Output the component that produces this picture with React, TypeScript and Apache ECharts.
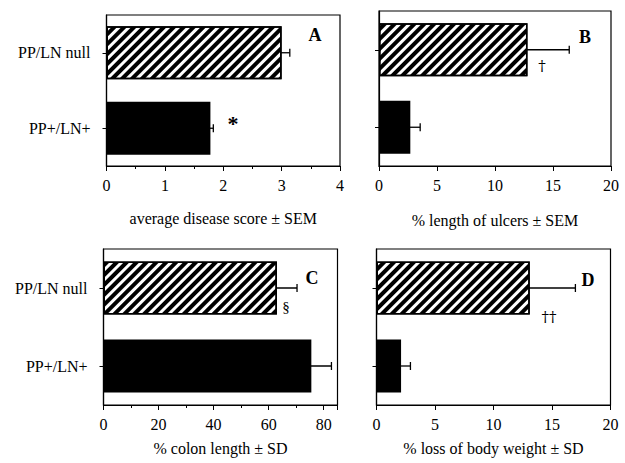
import React, { useEffect, useRef } from "react";
import * as echarts from "echarts";

const categories = ["PP/LN null", "PP+/LN+"];
const meansA = [3.0, 1.78];
const errA = [0.14, 0.05];
const meansB = [12.8, 2.7];
const errB = [3.6, 0.85];
const meansC = [63, 75.5];
const errC = [7.3, 7.3];
const meansD = [13.1, 2.1];
const errD = [3.9, 0.8];
const titles = [
  "average disease score ± SEM",
  "% length of ulcers ± SEM",
  "% colon length ± SD",
  "% loss of body weight ± SD",
];

const FONT = "'Liberation Serif', 'DejaVu Serif', serif";

const hatch = {
  symbol: "rect",
  symbolSize: 1,
  color: "#000",
  backgroundColor: "#fff",
  dashArrayX: [1, 0],
  dashArrayY: [3.1, 2.6],
  rotation: -Math.PI / 4,
};

function barSeries(idx: number, means: number[]) {
  return {
    type: "bar",
    xAxisIndex: idx,
    yAxisIndex: idx,
    barWidth: 53,
    silent: true,
    data: means.map((v, i) =>
      i === 0
        ? {
            value: v,
            itemStyle: { color: "#fff", borderColor: "#000", borderWidth: 1.5, decal: hatch },
          }
        : { value: v, itemStyle: { color: "#000", decal: "none" } }
    ),
  };
}

function errSeries(idx: number, means: number[], errs: number[]) {
  return {
    type: "custom",
    xAxisIndex: idx,
    yAxisIndex: idx,
    silent: true,
    encode: { x: [1, 2], y: 0 },
    data: means.map((m, i) => [i, m - errs[i], m + errs[i]]),
    renderItem: (params: any, api: any) => {
      const cat = api.value(0);
      const lo = api.coord([api.value(1), cat]);
      const hi = api.coord([api.value(2), cat]);
      const h = 4;
      const st = { stroke: "#000", lineWidth: 1.3 };
      return {
        type: "group",
        children: [
          { type: "line", shape: { x1: lo[0], y1: lo[1], x2: hi[0], y2: hi[1] }, style: st },
          { type: "line", shape: { x1: hi[0], y1: hi[1] - h, x2: hi[0], y2: hi[1] + h }, style: st },
          { type: "line", shape: { x1: lo[0], y1: lo[1] - h, x2: lo[0], y2: lo[1] + h }, style: st },
        ],
      };
    },
  };
}

export default function App() {
  const ref = useRef<HTMLDivElement>(null);
  useEffect(() => {
    if (!ref.current) return;
    const chart = echarts.init(ref.current, undefined, { renderer: "svg" });
    const grids = [
      { left: 106.5, top: 15, width: 233.5, height: 151 },
      { left: 379, top: 11, width: 232, height: 155 },
      { left: 103.5, top: 249, width: 234, height: 156 },
      { left: 376.5, top: 249, width: 234, height: 156 },
    ];
    const xCfg = [
      { max: 4, interval: 1, minor: true, gap: 44 },
      { max: 20, interval: 5, minor: false, gap: 46 },
      { max: 85, interval: 20, minor: true, gap: 35 },
      { max: 20, interval: 5, minor: false, gap: 35 },
    ];
    const sym = (text: string, x: number, y: number, font: string) => ({
      type: "text",
      x,
      y,
      style: { text, font, fill: "#000", align: "center", verticalAlign: "middle" },
    });
    const option: any = {
      animation: false,
      aria: { enabled: true, decal: { show: true } },
      textStyle: { fontFamily: FONT },
      grid: grids.map((g) => ({ ...g, show: true, borderColor: "#000", borderWidth: 1.2, backgroundColor: "#fff" })),
      xAxis: xCfg.map((c, i) => ({
        type: "value",
        gridIndex: i,
        min: 0,
        max: c.max,
        interval: c.interval,
        name: titles[i],
        nameLocation: "middle",
        nameGap: c.gap,
        nameTextStyle: { fontFamily: FONT, fontSize: 16, color: "#000" },
        axisLine: { show: true, lineStyle: { color: "#000", width: 1.2 } },
        axisTick: { show: true, length: 5, lineStyle: { color: "#000" } },
        minorTick: { show: c.minor, splitNumber: 2, length: 3, lineStyle: { color: "#000" } },
        splitLine: { show: false },
        axisLabel: {
          fontFamily: FONT,
          fontSize: 16,
          color: "#000",
          margin: 11,
          formatter: (v: number) => (v % c.interval === 0 ? String(v) : ""),
        },
      })),
      yAxis: [0, 1, 2, 3].map((i) => ({
        type: "category",
        gridIndex: i,
        data: categories,
        inverse: true,
        axisLine: { show: true, lineStyle: { color: "#000", width: 1.2 } },
        axisTick: { show: true, alignWithLabel: true, length: 4, lineStyle: { color: "#000" } },
        axisLabel: {
          show: i === 0 || i === 2,
          fontFamily: FONT,
          fontSize: 16,
          color: "#000",
          margin: 16,
        },
      })),
      series: [
        barSeries(0, meansA),
        errSeries(0, meansA, errA),
        barSeries(1, meansB),
        errSeries(1, meansB, errB),
        barSeries(2, meansC),
        errSeries(2, meansC, errC),
        barSeries(3, meansD),
        errSeries(3, meansD, errD),
      ],
      graphic: [
        sym("A", 315, 35, `bold 18px ${FONT}`),
        sym("B", 585, 37, `bold 18px ${FONT}`),
        sym("C", 312, 278, `bold 18px ${FONT}`),
        sym("D", 588, 280, `bold 18px ${FONT}`),
        sym("*", 233, 123, `bold 22px ${FONT}`),
        sym("†", 542, 66, `15px 'DejaVu Serif', serif`),
        sym("§", 286, 307, `15px ${FONT}`),
        sym("††", 549, 317, `15px 'DejaVu Serif', serif`),
      ],
    };
    chart.setOption(option);
    return () => chart.dispose();
  }, []);
  return (
    <div
      ref={ref}
      style={{ position: "absolute", left: 0, top: 0, width: 625, height: 463, background: "#fff" }}
    />
  );
}
